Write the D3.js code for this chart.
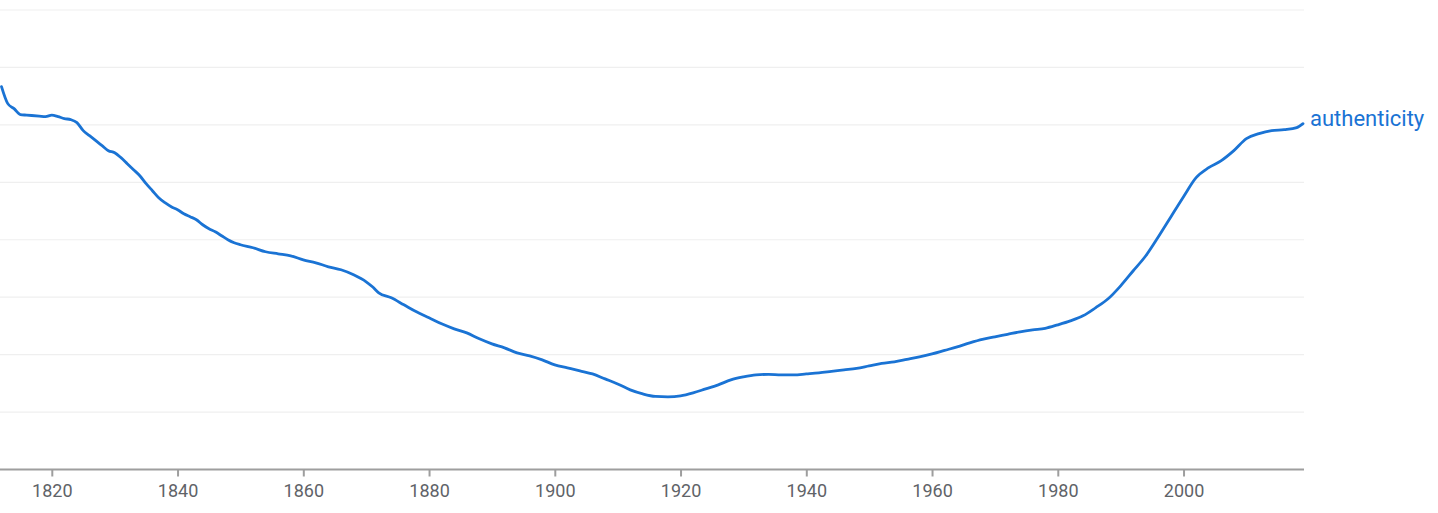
<!DOCTYPE html>
<html>
<head>
<meta charset="utf-8">
<script src="https://cdn.jsdelivr.net/npm/d3@7"></script>
<style>
  html, body { margin: 0; padding: 0; background: #fff; }
  svg { display: block; }
</style>
</head>
<body>
<svg id="chart" width="1438" height="513"></svg>
<script>
const seriesName = "authenticity";
const xTicks = [1820, 1840, 1860, 1880, 1900, 1920, 1940, 1960, 1980, 2000];
const yGrid = [1, 2, 3, 4, 5, 6, 7, 8];
const years = [
  1812,1813,1814,1815,1816,1818,1819,1820,1821,1822,1823,1824,1825,1826,1827,1828,1829,
  1830,1831,1832,1833,1834,1835,1836,1837,1838,1839,1840,1841,1842,1843,1844,1845,1846,
  1847,1848,1849,1850,1852,1854,1856,1858,1860,1862,1864,1866,1868,1870,1871,1872,1874,
  1876,1878,1880,1882,1884,1886,1888,1890,1892,1894,1896,1898,1900,1902,1904,1906,1908,
  1910,1912,1914,1916,1918,1920,1922,1924,1926,1928,1930,1932,1934,1936,1938,1940,1942,
  1944,1946,1948,1950,1952,1954,1956,1958,1960,1962,1964,1966,1968,1970,1972,1974,1976,
  1978,1980,1982,1984,1986,1988,1990,1992,1994,1996,1998,2000,2002,2004,2006,2008,2010,
  2012,2014,2016,2018,2019
];
const values = [
  6.667,6.370,6.283,6.179,6.170,6.153,6.144,6.170,6.144,6.109,6.092,6.039,5.900,5.813,5.725,5.638,5.551,
  5.516,5.429,5.325,5.220,5.115,4.976,4.854,4.732,4.645,4.575,4.523,4.453,4.401,4.349,4.261,4.192,4.139,
  4.070,4.000,3.948,3.913,3.861,3.791,3.756,3.721,3.651,3.599,3.529,3.477,3.390,3.268,3.181,3.076,2.989,
  2.867,2.745,2.641,2.536,2.449,2.379,2.275,2.187,2.118,2.031,1.978,1.908,1.821,1.769,1.717,1.664,1.577,
  1.490,1.386,1.316,1.272,1.264,1.281,1.333,1.403,1.473,1.560,1.612,1.647,1.656,1.647,1.647,1.664,1.682,
  1.708,1.734,1.760,1.804,1.847,1.874,1.917,1.961,2.013,2.074,2.135,2.205,2.266,2.309,2.353,2.397,2.431,
  2.458,2.519,2.588,2.675,2.815,2.972,3.198,3.460,3.721,4.052,4.401,4.749,5.081,5.255,5.377,5.551,5.760,
  5.847,5.900,5.917,5.952,6.022
];

const data = years.map((y, i) => ({ year: y, value: values[i] }));

const svg = d3.select("#chart");
const plotLeft = 0, plotRight = 1304, plotTop = 10, plotBottom = 469.5;

const x = d3.scaleLinear().domain([1812, 2019]).range([1.5, 1303]);
const y = d3.scaleLinear().domain([0, 8]).range([plotBottom, plotTop]);

// gridlines
svg.append("g").selectAll("line").data(yGrid).join("line")
  .attr("x1", plotLeft).attr("x2", plotRight)
  .attr("y1", d => y(d)).attr("y2", d => y(d))
  .attr("stroke", "#efefef").attr("stroke-width", 1.2);

// x axis
const xAxis = d3.axisBottom(x).tickValues(xTicks).tickFormat(d3.format("d")).tickSizeInner(7).tickSizeOuter(0).tickPadding(8);
const gx = svg.append("g").attr("transform", `translate(0,${plotBottom})`).call(xAxis);
gx.select(".domain").attr("d", `M${plotLeft},0H${plotRight}`).attr("stroke", "#9e9e9e").attr("stroke-width", 2);
gx.selectAll(".tick line").attr("stroke", "#9e9e9e").attr("stroke-width", 2);
gx.selectAll(".tick text")
  .attr("fill", "#5f6368")
  .style("font-family", "Roboto, 'Noto Sans', sans-serif")
  .style("font-size", "18px");

// line
const line = d3.line().x(d => x(d.year)).y(d => y(d.value)).curve(d3.curveMonotoneX);
svg.append("path").datum(data)
  .attr("d", line)
  .attr("fill", "none")
  .attr("stroke", "#1a73d4")
  .attr("stroke-width", 2.8)
  .attr("stroke-linejoin", "round")
  .attr("stroke-linecap", "round");

// label
const last = data[data.length - 1];
svg.append("text")
  .attr("x", x(last.year) + 7)
  .attr("y", y(last.value) + 2)
  .attr("fill", "#1a73d4")
  .style("font-family", "Roboto, 'Noto Sans', sans-serif")
  .style("font-size", "22px")
  .text(seriesName);
</script>
</body>
</html>
